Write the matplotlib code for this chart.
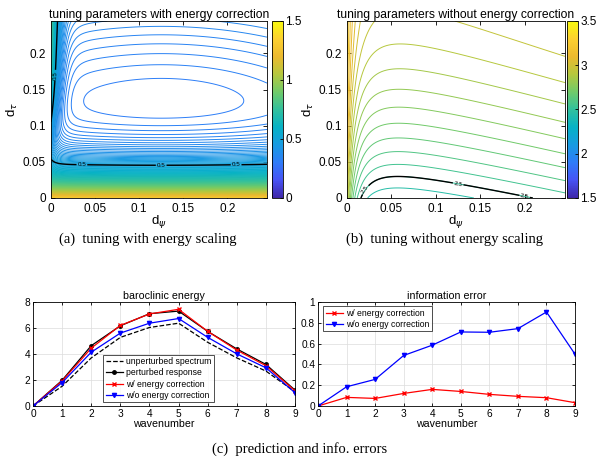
import numpy as np
import matplotlib.pyplot as plt
from matplotlib.colors import LinearSegmentedColormap, Normalize
from matplotlib.cm import ScalarMappable
from matplotlib.ticker import FuncFormatter

# parula-like colour map
parula_pts = [(0.2422, 0.1504, 0.6603), (0.2795, 0.3249, 0.9596), (0.1834, 0.4855, 0.9744),
              (0.0908, 0.6073, 0.8837), (0.0229, 0.6972, 0.7740), (0.1932, 0.7547, 0.6165),
              (0.4398, 0.7940, 0.4137), (0.7114, 0.7836, 0.2436), (0.9255, 0.7285, 0.1829),
              (0.9880, 0.8150, 0.1880), (0.9763, 0.9831, 0.0538)]
parula = LinearSegmentedColormap.from_list("parula", parula_pts)

# tuning grid (d_psi, d_tau)
d_psi = np.linspace(0, 0.245, 400)
d_tau = np.linspace(0, 0.245, 400)

# error surface with energy correction (shape)
a_base, a_exp, a_scale, a_quad = 0.272, 1.02, 0.03, 1.42
a_xcurv, a_xmin = 0.66, 0.125
a_left, a_left_w, a_left_y = 0.45, 0.00617, 0.12

# error surface without energy correction
b_base, b_lin, b_quad = 2.33, 3.5, 4.86
b_slope0, b_slope1 = 0.8, 1.6
b_left, b_left_q = 0.000148, 0.015

# baroclinic energy spectra
wavenumber = np.arange(10)
unperturbed = [0, 1.52, 3.7, 5.28, 6.04, 6.37, 4.9, 3.7, 2.69, 1.09]
perturbed = [0, 1.98, 4.64, 6.17, 7.1, 7.3, 5.74, 4.39, 3.2, 1.22]
with_corr = [0, 1.93, 4.45, 6.2, 7.08, 7.44, 5.74, 4.3, 3.1, 1.17]
without_corr = [0, 1.8, 4.14, 5.61, 6.37, 6.73, 5.28, 4.01, 2.94, 1.02]

# information error
err_with = [0, 0.083, 0.073, 0.121, 0.16, 0.14, 0.112, 0.093, 0.08, 0.032]
err_without = [0, 0.185, 0.256, 0.486, 0.585, 0.712, 0.709, 0.744, 0.904, 0.498]

X, Y = np.meshgrid(d_psi, d_tau)
fa = (a_base + a_exp * np.exp(-Y / a_scale) + a_quad * Y**2 + a_xcurv * (X - a_xmin)**2
      + a_left / (1 + np.exp(-(Y - a_left_y) / 0.03)) * np.exp(-X / a_left_w))
fb = (b_base + b_lin * Y - b_quad * Y**2 + (b_slope0 - b_slope1 * Y) * X
      + b_left / (X + b_left_q)**2 * (1 - 0.4 * Y / 0.245))

fmt = FuncFormatter(lambda v, p: f"{v:g}")
plt.rcParams['font.family'] = "Liberation Sans"
plt.rcParams['mathtext.fontset'] = 'dejavusans'

fig = plt.figure(figsize=(5.97, 4.58), dpi=100)


def contour_panel(rect, crect, Z, vmin, vmax, levels, black, cticks, title, lab_pos):
    ax = fig.add_axes(rect)
    norm = Normalize(vmin, vmax)
    ax.contour(X, Y, Z, levels=levels, cmap=parula, norm=norm, linewidths=0.7)
    cs = ax.contour(X, Y, Z, levels=[black], colors='k', linewidths=1.0)
    ax.clabel(cs, fmt='%g', fontsize=4.5, inline=True, inline_spacing=1, manual=lab_pos)
    ax.set_xlim(0, 0.245)
    ax.set_ylim(0, 0.245)
    ticks = [0, 0.05, 0.1, 0.15, 0.2]
    ax.set_xticks(ticks)
    ax.set_yticks(ticks)
    ax.xaxis.set_major_formatter(fmt)
    ax.yaxis.set_major_formatter(fmt)
    ax.tick_params(direction='in', top=True, right=True, labelsize=8.5, length=3, width=0.6)
    ax.set_title(title, fontsize=8.7, pad=2)
    ax.set_xlabel(r'd$_{\psi}$', fontsize=9.5, labelpad=-1)
    ax.set_ylabel(r'd$_{\tau}$', fontsize=9.5, labelpad=2)
    for s in ax.spines.values():
        s.set_linewidth(0.6)
    cax = fig.add_axes(crect)
    cb = fig.colorbar(ScalarMappable(norm, parula), cax=cax, ticks=cticks)
    cb.ax.tick_params(direction='in', labelsize=8.5, length=2.5, width=0.6, pad=1.5)
    cb.ax.yaxis.set_major_formatter(fmt)
    cb.outline.set_linewidth(0.6)
    return ax


contour_panel([0.0854, 0.5677, 0.3618, 0.3865], [0.4556, 0.5677, 0.0184, 0.3865], fa, 0, 1.5,
              np.linspace(0, 1.5, 201), 0.5, [0, 0.5, 1, 1.5],
              "tuning parameters with energy correction",
              [(0.035, 0.041), (0.125, 0.043), (0.21, 0.045), (0.004, 0.17)])
contour_panel([0.5812, 0.5677, 0.3652, 0.3865], [0.9497, 0.5677, 0.0184, 0.3865], fb, 1.5, 3.5,
              np.arange(1.5, 3.5001, 0.05), 2.5, [1.5, 2, 2.5, 3, 3.5],
              "tuning parameters without energy correction",
              [(0.022, 0.01), (0.125, 0.02), (0.2, 0.004)])


def line_panel(rect, title):
    ax = fig.add_axes(rect)
    ax.set_xlim(0, 9)
    ax.set_xticks(wavenumber)
    ax.set_title(title, fontsize=7.7, pad=2)
    ax.set_xlabel('wavenumber', fontsize=7.7, labelpad=0)
    ax.grid(True, color='#dcdcdc', lw=0.5)
    ax.tick_params(direction='in', top=True, right=True, labelsize=7.3, length=2.5, width=0.6, pad=2)
    for s in ax.spines.values():
        s.set_linewidth(0.6)
    return ax


def style_legend(leg):
    leg.get_frame().set_edgecolor('k')
    leg.get_frame().set_linewidth(0.6)


legend_kw = dict(fontsize=6.2, fancybox=False, handlelength=2, borderpad=0.3,
                 labelspacing=0.25, handletextpad=0.4)

# bottom left: baroclinic energy
ax = line_panel([0.0553, 0.1135, 0.4389, 0.2271], 'baroclinic energy')
ax.plot(wavenumber, unperturbed, 'k--', lw=0.9, label='unperturbed spectrum')
ax.plot(wavenumber, perturbed, 'k-o', lw=0.9, ms=2.5, label='perturbed response')
ax.plot(wavenumber, with_corr, 'r-x', lw=0.9, ms=2.5, label='w/ energy correction')
ax.plot(wavenumber, without_corr, 'b-v', lw=0.9, ms=3, label='w/o energy correction')
ax.set_ylim(0, 8)
ax.set_yticks([0, 2, 4, 6, 8])
style_legend(ax.legend(loc='center', bbox_to_anchor=(0.48, 0.265), borderaxespad=0.2, **legend_kw))

# bottom right: information error
ax = line_panel([0.5327, 0.1135, 0.4305, 0.2271], 'information error')
ax.plot(wavenumber, err_with, 'r-x', lw=0.9, ms=2.5, label='w/ energy correction')
ax.plot(wavenumber, err_without, 'b-v', lw=0.9, ms=3, label='w/o energy correction')
ax.set_ylim(0, 1)
ax.set_yticks([0, 0.2, 0.4, 0.6, 0.8, 1])
ax.yaxis.set_major_formatter(fmt)
style_legend(ax.legend(loc='upper left', bbox_to_anchor=(0.02, 0.96), borderaxespad=0.0, **legend_kw))

# captions
cap = dict(fontsize=10.5, family='Liberation Serif', ha='center', va='center')
fig.text(148 / 597, 1 - 239 / 458, '(a)  tuning with energy scaling', **cap)
fig.text(445 / 597, 1 - 239 / 458, '(b)  tuning without energy scaling', **cap)
fig.text(300 / 597, 1 - 449 / 458, '(c)  prediction and info. errors', **cap)

fig.savefig('out.png', dpi=100)
